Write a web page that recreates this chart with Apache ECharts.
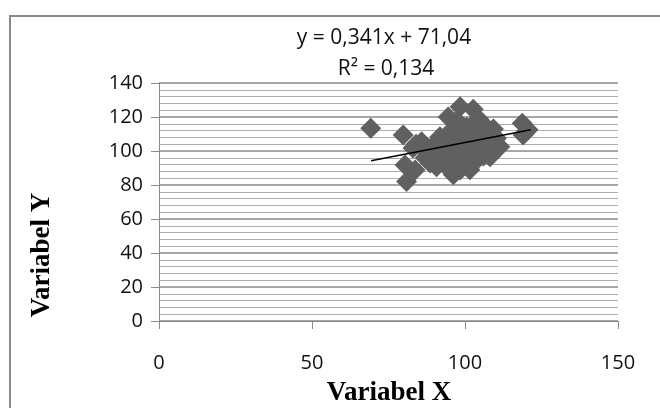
<!DOCTYPE html>
<html><head><meta charset="utf-8">
<script src="https://cdn.jsdelivr.net/npm/echarts@6/dist/echarts.min.js"></script>
<style>html,body{margin:0;padding:0;background:#fff}#c{width:660px;height:408px}</style>
</head><body><div id="c"></div>
<script>
const xValues = [69.2,118.7,119,120.6,79.8,80.4,80.9,83.7,85.8,83,88.6,90.7,98.4,102.7,94.5,97.3,104.4,100.5,107,109.3,110.3,111.4,108.2,106,103.8,101.6,98.4,96.2,94,92.9,95.1,91.8,95.1,99.5,98.4,100.5,97.3,90.7,88,103.8,107,101.6,99,96,102,105,93,97,100,104,106,108,92,87,89,84];
const yValues = [113.4,116.3,109.4,112.5,109.4,91.8,82,88.8,105.5,101.8,93,100.6,126,124.5,120,118,119,114,114,113,107.5,102.5,96.6,101.6,98.6,94.7,88.8,86,90.8,96.6,102.5,108.4,110.4,106.5,100.6,98.6,94.7,90.8,98.6,108.4,106.5,89,112,113,104,111,100,98,92,95,97,110,104,96,102,104];
const trendX = [69.3, 121.5];
const trendY = [94.2, 112.5];
const xTicks = [0, 50, 100, 150];
const yTicks = [0, 20, 40, 60, 80, 100, 120, 140];
const equationText = 'y = 0,341x + 71,04';
const r2Text = 'R² = 0,134';
const xTitle = 'Variabel X';
const yTitle = 'Variabel Y';

const chart = echarts.init(document.getElementById('c'));
chart.setOption({
  animation: false,
  backgroundColor: '#fff',
  grid: { left: 159, right: 42, top: 83, bottom: 87 },
  graphic: [
    { type: 'rect', shape: { x: 10, y: 16, width: 680, height: 420 }, style: { fill: 'none', stroke: '#8a8a8a', lineWidth: 2 }, z: -10 },
    { type: 'text', x: 384, y: 38, style: { text: equationText, fontFamily: 'Open Sans', fontSize: 21, textAlign: 'center', textVerticalAlign: 'middle', fill: '#111' } },
    { type: 'text', x: 386, y: 69, style: { text: r2Text, fontFamily: 'Open Sans', fontSize: 21, textAlign: 'center', textVerticalAlign: 'middle', fill: '#111' } },
    { type: 'text', x: 389, y: 393, style: { text: xTitle, fontFamily: 'Liberation Serif', fontWeight: 'bold', fontSize: 27, textAlign: 'center', textVerticalAlign: 'middle', fill: '#000' } },
    { type: 'text', x: 42, y: 255, rotation: Math.PI / 2, style: { text: yTitle, fontFamily: 'Liberation Serif', fontWeight: 'bold', fontSize: 27, textAlign: 'center', textVerticalAlign: 'middle', fill: '#000' } }
  ],
  xAxis: {
    type: 'value', min: xTicks[0], max: xTicks[xTicks.length - 1], interval: 50,
    axisLine: { show: true, onZero: true, lineStyle: { color: '#8a8a8a', width: 1 } },
    axisTick: { show: true, length: 8, lineStyle: { color: '#8a8a8a' } },
    axisLabel: { margin: 32, fontFamily: 'Open Sans', fontSize: 20, color: '#111' },
    splitLine: { show: false }
  },
  yAxis: {
    type: 'value', min: yTicks[0], max: yTicks[yTicks.length - 1], interval: 20,
    axisLine: { show: true, lineStyle: { color: '#8a8a8a', width: 1 } },
    axisTick: { show: true, length: 8, lineStyle: { color: '#8a8a8a' } },
    axisLabel: { margin: 16, fontFamily: 'Open Sans', fontSize: 20, color: '#111' },
    splitLine: { show: true, lineStyle: { color: '#8a8a8a', width: 1.5 } },
    minorTick: { show: false, splitNumber: 5 },
    minorSplitLine: { show: true, lineStyle: { color: '#adadad', width: 1 } }
  },
  series: [
    {
      type: 'scatter', symbol: 'diamond', symbolSize: 21,
      itemStyle: { color: '#606060', opacity: 1 },
      data: xValues.map((x, i) => [x, yValues[i]]), z: 2
    },
    {
      type: 'line', symbol: 'none', silent: true,
      lineStyle: { color: '#000', width: 1.5 },
      data: trendX.map((x, i) => [x, trendY[i]]), z: 3
    }
  ]
});
</script></body></html>
